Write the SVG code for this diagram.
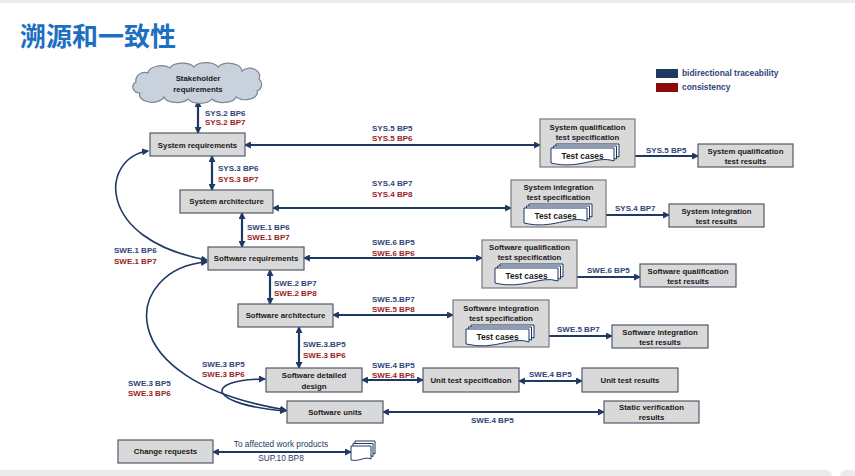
<svg xmlns="http://www.w3.org/2000/svg" width="855" height="476" viewBox="0 0 855 476">
<style>
.box{fill:#d9d9d9;stroke:#4f5b6b;stroke-width:1.2}
.spec{fill:#d9d9d9;stroke:#7a7a7a;stroke-width:1.2}
.pg{fill:#ffffff;stroke:#1f3864;stroke-width:1}
.t{font-family:"Liberation Sans",Arial,sans-serif;font-weight:bold;font-size:7.8px;fill:#1a1a1a;text-anchor:middle}
.tc{font-family:"Liberation Sans",Arial,sans-serif;font-weight:bold;font-size:8.4px;fill:#1a1a1a;text-anchor:middle}
.lb{font-family:"Liberation Sans",Arial,sans-serif;font-weight:bold;font-size:8px;fill:#2f4577}
.lr{font-family:"Liberation Sans",Arial,sans-serif;font-weight:bold;font-size:8px;fill:#9b1c1c}
.ln{font-family:"Liberation Sans",Arial,sans-serif;font-size:8.3px;fill:#1f3864;text-anchor:middle}
.lg{font-family:"Liberation Sans",Arial,sans-serif;font-weight:bold;font-size:8.4px;fill:#2f4577}
.c{fill:none;stroke:#1f3864;stroke-width:2.2;marker-start:url(#a);marker-end:url(#a)}
.cv{fill:none;stroke:#1f3864;stroke-width:1.6;marker-start:url(#a);marker-end:url(#a)}
</style>
<defs>
<marker id="a" viewBox="0 0 10 10" refX="8.5" refY="5" markerWidth="7" markerHeight="7" markerUnits="userSpaceOnUse" orient="auto-start-reverse">
<path d="M0,0 L10,5 L0,10 Z" fill="#1f3864"/>
</marker>
<path id="pg" d="M0,0 H63 V13 C45,7 29,22 0,15 Z"/>
<g id="stack">
<use href="#pg" class="pg" transform="translate(5,-4)"/>
<use href="#pg" class="pg" transform="translate(2.5,-2)"/>
<use href="#pg" class="pg"/>
</g>
</defs>

<rect x="0" y="0" width="855" height="3" fill="#ececec"/>
<rect x="-10" y="470" width="842" height="14" rx="6" fill="#ebebeb"/>
<rect x="840" y="470" width="30" height="14" rx="6" fill="#ebebeb"/>

<text x="20" y="46" font-family="'Noto Sans CJK SC',sans-serif" font-weight="bold" font-size="26px" fill="#1d6fc2">溯源和一致性</text>

<g id="legend">
<rect x="656" y="69" width="22" height="9" fill="#1f3864"/>
<text class="lg" x="682" y="76">bidirectional traceability</text>
<rect x="656" y="83" width="22" height="9" fill="#8b0a0a"/>
<text class="lg" x="682" y="90">consistency</text>
</g>

<g id="connectors">
<line class="c" x1="198" y1="101" x2="198" y2="133"/>
<line class="c" x1="245" y1="145" x2="540" y2="145"/>
<line class="c" x1="620" y1="156" x2="698" y2="156"/>
<line class="c" x1="212" y1="156" x2="212" y2="190"/>
<line class="c" x1="273" y1="208" x2="511" y2="208"/>
<line class="c" x1="592" y1="215" x2="669" y2="215"/>
<line class="c" x1="242" y1="213" x2="242" y2="247"/>
<line class="c" x1="304" y1="258" x2="482" y2="258"/>
<line class="c" x1="563" y1="277" x2="640" y2="277"/>
<line class="c" x1="270" y1="270" x2="270" y2="304"/>
<line class="c" x1="333" y1="315" x2="453" y2="315"/>
<line class="c" x1="534" y1="336" x2="612" y2="336"/>
<line class="c" x1="299" y1="327" x2="299" y2="368"/>
<line class="c" x1="362" y1="380" x2="423" y2="380"/>
<line class="c" x1="519" y1="381" x2="582" y2="381"/>
<line class="c" x1="383" y1="412" x2="604" y2="412"/>
<line class="c" x1="213" y1="452" x2="351" y2="452"/>
<path class="cv" d="M148,151 C100,158 95,240 207,260"/>
<path class="cv" d="M207,262 C125,268 105,380 286,410"/>
<path class="cv" d="M265,379 C200,380 210,405 286,411"/>
</g>

<g id="labels">
<text class="lb" x="205" y="116">SYS.2 BP6</text><text class="lr" x="205" y="125">SYS.2 BP7</text>
<text class="lb" x="372" y="131">SYS.5 BP5</text><text class="lr" x="372" y="141">SYS.5 BP6</text>
<text class="lb" x="218" y="171">SYS.3 BP6</text><text class="lr" x="218" y="182">SYS.3 BP7</text>
<text class="lb" x="372" y="186">SYS.4 BP7</text><text class="lr" x="372" y="197">SYS.4 BP8</text>
<text class="lb" x="247" y="230">SWE.1 BP6</text><text class="lr" x="247" y="240">SWE.1 BP7</text>
<text class="lb" x="114" y="253">SWE.1 BP6</text><text class="lr" x="114" y="264">SWE.1 BP7</text>
<text class="lb" x="372" y="245">SWE.6 BP5</text><text class="lr" x="372" y="256">SWE.6 BP6</text>
<text class="lb" x="274" y="286">SWE.2 BP7</text><text class="lr" x="274" y="296">SWE.2 BP8</text>
<text class="lb" x="372" y="302">SWE.5.BP7</text><text class="lr" x="372" y="312">SWE.5 BP8</text>
<text class="lb" x="303" y="347">SWE.3.BP5</text><text class="lr" x="303" y="358">SWE.3 BP6</text>
<text class="lb" x="202" y="367">SWE.3 BP5</text><text class="lr" x="202" y="377">SWE.3 BP6</text>
<text class="lb" x="128" y="386">SWE.3 BP5</text><text class="lr" x="128" y="396">SWE.3 BP6</text>
<text class="lb" x="372" y="368">SWE.4 BP5</text><text class="lr" x="372" y="378">SWE.4 BP6</text>
<text class="lb" x="646" y="153">SYS.5 BP5</text>
<text class="lb" x="615" y="211">SYS.4 BP7</text>
<text class="lb" x="587" y="273">SWE.6 BP5</text>
<text class="lb" x="557" y="332">SWE.5 BP7</text>
<text class="lb" x="529" y="377">SWE.4 BP5</text>
<text class="lb" x="471" y="423">SWE.4 BP5</text>
<text class="ln" x="281" y="447">To affected work products</text>
<text class="ln" x="281" y="461">SUP.10 BP8</text>
</g>

<g id="stakeholder">
<path d="M140,93 a7,6 0 0 1 -4,-11 a9,8 0 0 1 12,-9 a13,8 0 0 1 22,-5 a13,7 0 0 1 24,-1 a13,7 0 0 1 24,0 a13,8 0 0 1 24,4 a10,8 0 0 1 17,8 a7,7 0 0 1 -2,12 a12,7 0 0 1 -21,6 a13,7 0 0 1 -24,2 a13,7 0 0 1 -24,0 a13,7 0 0 1 -24,-2 a12,7 0 0 1 -24,-4 Z" fill="#c9d1dc" stroke="#7b8696" stroke-width="1.2"/>
<text class="t" x="198" y="81">Stakeholder</text>
<text class="t" x="198" y="92">requirements</text>
</g>

<g id="sysreq"><rect class="box" x="150" y="133" width="95" height="23"/><text class="t" x="197.5" y="147.5">System requirements</text></g>
<g id="sysarch"><rect class="box" x="180" y="190" width="93" height="23"/><text class="t" x="226.5" y="204.3">System architecture</text></g>
<g id="swreq"><rect class="box" x="208" y="247" width="96" height="23"/><text class="t" x="256" y="261.3">Software requirements</text></g>
<g id="swarch"><rect class="box" x="238" y="304" width="95" height="23"/><text class="t" x="285.5" y="318.3">Software architecture</text></g>
<g id="swdd"><rect class="box" x="266" y="368" width="96" height="24"/><text class="t" x="314" y="378">Software detailed</text><text class="t" x="314" y="388.5">design</text></g>
<g id="units"><rect class="box" x="287" y="401" width="96" height="22"/><text class="t" x="335" y="414.8">Software units</text></g>
<g id="change"><rect class="box" x="118" y="440" width="95" height="23"/><text class="t" x="165.5" y="454.3">Change requests</text></g>
<g id="utspec"><rect class="box" x="423" y="368" width="96" height="24"/><text class="t" x="471" y="382.8">Unit test specification</text></g>
<g id="utres"><rect class="box" x="582" y="368" width="96" height="24"/><text class="t" x="630" y="382.8">Unit test results</text></g>
<g id="static"><rect class="box" x="604" y="401" width="95" height="22"/><text class="t" x="651.5" y="409.5">Static verification</text><text class="t" x="651.5" y="419.5">results</text></g>
<g id="sysqres"><rect class="box" x="698" y="144" width="95" height="23"/><text class="t" x="745.5" y="153.5">System qualification</text><text class="t" x="745.5" y="163.5">test results</text></g>
<g id="sysires"><rect class="box" x="669" y="204" width="95" height="23"/><text class="t" x="716.5" y="213.5">System integration</text><text class="t" x="716.5" y="223.5">test results</text></g>
<g id="swqres"><rect class="box" x="640" y="264" width="96" height="23"/><text class="t" x="688" y="273.5">Software qualification</text><text class="t" x="688" y="283.5">test results</text></g>
<g id="swires"><rect class="box" x="612" y="325" width="96" height="23"/><text class="t" x="660" y="334.5">Software integration</text><text class="t" x="660" y="344.5">test results</text></g>

<g id="sysqspec"><rect class="spec" x="540" y="119" width="95" height="48"/><text class="t" x="587.5" y="129.5">System qualification</text><text class="t" x="587.5" y="139.5">test specification</text>
<use href="#stack" transform="translate(551,148)"/><text class="tc" x="582.5" y="159">Test cases</text></g>
<g id="sysispec"><rect class="spec" x="511" y="180" width="95" height="47"/><text class="t" x="558.5" y="189.5">System integration</text><text class="t" x="558.5" y="199.5">test specification</text>
<use href="#stack" transform="translate(524,208)"/><text class="tc" x="555.5" y="219">Test cases</text></g>
<g id="swqspec"><rect class="spec" x="482" y="240" width="95" height="48"/><text class="t" x="529.5" y="249.5">Software qualification</text><text class="t" x="529.5" y="259.5">test specification</text>
<use href="#stack" transform="translate(495,268)"/><text class="tc" x="526.5" y="279">Test cases</text></g>
<g id="swispec"><rect class="spec" x="453" y="300" width="96" height="47"/><text class="t" x="501" y="310.5">Software integration</text><text class="t" x="501" y="320.5">test specification</text>
<use href="#stack" transform="translate(466,329)"/><text class="tc" x="497.5" y="340">Test cases</text></g>

<g id="affected">
<path class="pg" d="M355,441 H375 V454 C369,451 363,457 355,455 Z"/>
<path class="pg" d="M353,443.5 H373 V456.5 C367,453.5 361,459.5 353,457.5 Z"/>
<path class="pg" d="M351,446 H371 V459 C365,456 359,462 351,460 Z"/>
</g>
</svg>
